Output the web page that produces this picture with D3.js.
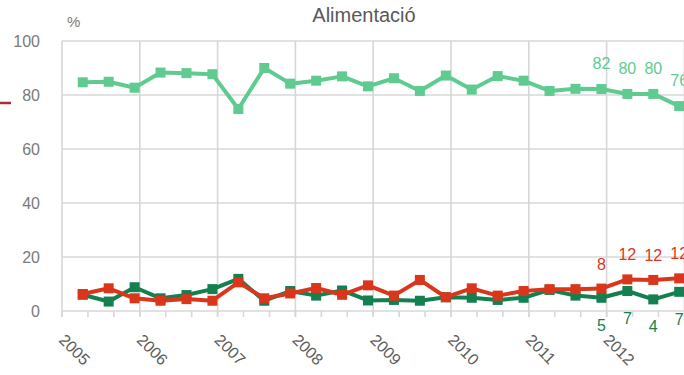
<!DOCTYPE html>
<html><head><meta charset="utf-8">
<script src="https://cdn.jsdelivr.net/npm/d3@7"></script>
<style>
html,body{margin:0;padding:0;background:#fff;overflow:hidden;}
svg{display:block;font-family:"Liberation Sans",Arial,sans-serif;}
</style></head>
<body><svg id="chart" width="684" height="375"></svg>
<script>
// Periods: year + four-month term (1..3)
const periods = ["2005-1","2005-2","2005-3","2006-1","2006-2","2006-3","2007-1","2007-2","2007-3",
  "2008-1","2008-2","2008-3","2009-1","2009-2","2009-3","2010-1","2010-2","2010-3",
  "2011-1","2011-2","2011-3","2012-1","2012-2","2012-3"];
const seriesLight = [84.7,84.9,82.7,88.3,88.1,87.7,74.8,90.0,84.2,85.3,86.9,83.2,
  86.2,81.5,87.2,82.0,87.0,85.3,81.5,82.3,82.2,80.4,80.4,75.9];
const seriesRed = [6.3,8.4,4.7,3.8,4.4,3.8,10.6,4.7,6.5,8.5,6.0,9.5,
  5.7,11.5,5.1,8.4,5.7,7.4,8.1,8.1,8.3,11.7,11.5,12.1];
const seriesDark = [6.0,3.5,8.8,4.7,5.9,8.1,11.9,3.8,7.4,5.7,7.6,3.9,
  4.1,3.8,5.1,4.9,4.1,4.9,7.8,5.7,4.9,7.4,4.3,7.1];
const yearTicks = [2005,2006,2007,2008,2009,2010,2011,2012];
const yTicks = [0,20,40,60,80,100];
const labelFrom = 20; // data labels shown on the last points
const title = "Alimentació";

const svg = d3.select("#chart");
const x = d3.scaleLinear().domain([2005, 2013]).range([62, 684.4]);
const y = d3.scaleLinear().domain([0, 100]).range([311, 41]);
const tOf = p => { const [yr, q] = p.split("-").map(Number); return yr + (q - 1 + 0.8) / 3; };

const grid = "#d7d7d7";
svg.append("g").selectAll("line").data(yTicks).join("line")
  .attr("x1", 62).attr("x2", 684).attr("y1", d => y(d)).attr("y2", d => y(d))
  .attr("stroke", grid).attr("stroke-width", 1.6);
svg.append("g").selectAll("line").data(yearTicks.concat([2013])).join("line")
  .attr("x1", d => x(d)).attr("x2", d => x(d)).attr("y1", y(100)).attr("y2", y(0) + 6)
  .attr("stroke", grid).attr("stroke-width", 1.6);
const minor = d3.range(0, 24).map(i => 2005 + i / 3);
svg.append("g").selectAll("line").data(minor).join("line")
  .attr("x1", d => x(d)).attr("x2", d => x(d)).attr("y1", y(0)).attr("y2", y(0) + 6)
  .attr("stroke", grid).attr("stroke-width", 1.6);

svg.append("g").selectAll("text").data(yTicks).join("text")
  .attr("x", 40).attr("y", d => y(d)).attr("dy", "0.36em").attr("text-anchor", "end")
  .attr("font-size", 16).attr("fill", "#7a7a7a").text(d => d);
svg.append("text").attr("x", 67).attr("y", 27).attr("font-size", 15).attr("fill", "#7a7a7a").text("%");

svg.append("g").selectAll("text").data(yearTicks).join("text")
  .attr("transform", d => `translate(${x(d) - 4},${341}) rotate(45)`)
  .attr("font-size", 16).attr("fill", "#5a5a5a").text(d => d);

svg.append("text").attr("x", 364).attr("y", 22).attr("text-anchor", "middle")
  .attr("font-size", 20).attr("fill", "#595959").text(title);

svg.append("line").attr("x1", 0).attr("x2", 11).attr("y1", 103).attr("y2", 103)
  .attr("stroke", "#b3272d").attr("stroke-width", 2.5);

function drawSeries(values, color, labelDy) {
  const pts = values.map((v, i) => ({ t: tOf(periods[i]), v, i }));
  const line = d3.line().x(d => x(d.t)).y(d => y(d.v));
  svg.append("path").datum(pts).attr("d", line).attr("fill", "none")
    .attr("stroke", color).attr("stroke-width", 4).attr("stroke-linejoin", "round");
  svg.append("g").selectAll("rect").data(pts).join("rect")
    .attr("x", d => x(d.t) - 5).attr("y", d => y(d.v) - 5)
    .attr("width", 10).attr("height", 10).attr("fill", color);
  svg.append("g").selectAll("text").data(pts.filter(d => d.i >= labelFrom)).join("text")
    .attr("x", d => x(d.t)).attr("y", d => y(d.v) + labelDy).attr("text-anchor", "middle")
    .attr("font-size", 16).attr("fill", color).text(d => Math.round(d.v));
}
drawSeries(seriesLight, "#5fcb90", -20);
drawSeries(seriesDark, "#148050", 33);
drawSeries(seriesRed, "#d9361b", -19);
</script></body></html>
